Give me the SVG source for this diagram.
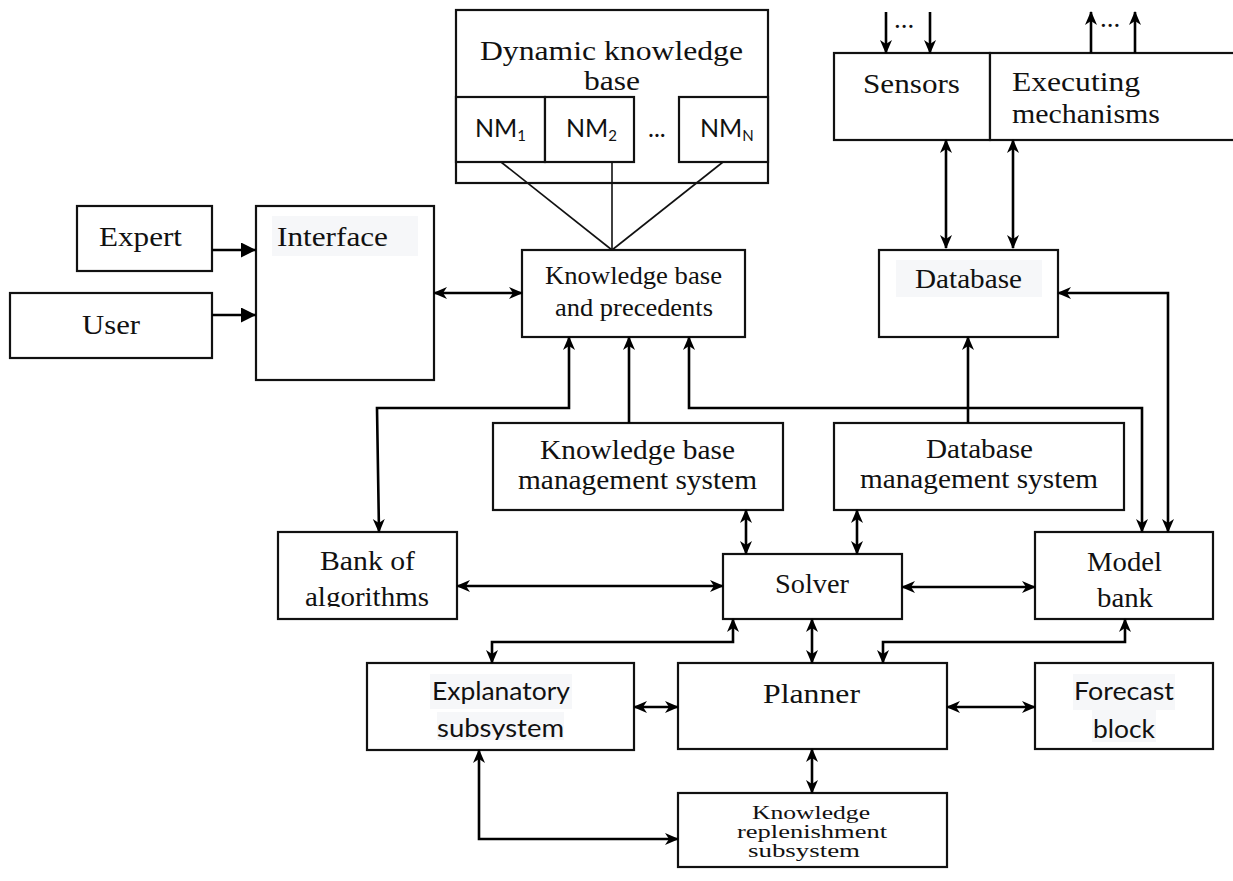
<svg xmlns="http://www.w3.org/2000/svg" width="1233" height="881" viewBox="0 0 1233 881">
<style>
.box{fill:#fff;stroke:#111;stroke-width:2.2}
.thin{fill:none;stroke:#111;stroke-width:1.6}
.c{fill:none;stroke:#000;stroke-width:2.6}
.s{font-family:"Liberation Serif","Times New Roman",serif;font-size:27px;fill:#111}
.sm{font-family:"Liberation Serif","Times New Roman",serif;font-size:25px;fill:#111}
.kr{font-family:"Liberation Serif","Times New Roman",serif;font-size:19px;fill:#111}
.ss{font-family:Lato,"Open Sans",sans-serif;font-size:25px;fill:#111}
.bg{fill:#f6f7f9}
</style>
<defs>
<marker id="a" viewBox="0 0 14 14" refX="13" refY="7" markerWidth="14" markerHeight="14" markerUnits="userSpaceOnUse" orient="auto-start-reverse"><path d="M0,1 L14,7 L0,13 L4,7 z" fill="#000"/></marker>
<marker id="t" viewBox="0 0 14 14" refX="14" refY="7" markerWidth="15" markerHeight="15" markerUnits="userSpaceOnUse" orient="auto"><path d="M0,0 L14,7 L0,14 z" fill="#000"/></marker>
<clipPath id="clipExp"><rect x="360" y="660" width="280" height="80"/></clipPath>
<clipPath id="clipAlg"><rect x="280" y="534" width="175" height="73"/></clipPath>
</defs>

<g id="dynamic-kb">
<rect class="box" x="456" y="10" width="312" height="173"/>
<text class="s" x="480" y="60" textLength="263" lengthAdjust="spacingAndGlyphs">Dynamic knowledge</text>
<text class="s" x="584" y="90" textLength="56" lengthAdjust="spacingAndGlyphs">base</text>
<rect class="box" x="456" y="97" width="89" height="65"/>
<rect class="box" x="545" y="97" width="89" height="65"/>
<rect class="box" x="679" y="97" width="89" height="65"/>
<text class="ss" x="475" y="137" font-size="22">NM<tspan font-size="15" dy="4">1</tspan></text>
<text class="ss" x="566" y="137" font-size="22">NM<tspan font-size="15" dy="4">2</tspan></text>
<text class="ss" x="648" y="137" font-size="22">...</text>
<text class="ss" x="700" y="137" font-size="22">NM<tspan font-size="15" dy="4">N</tspan></text>
</g>

<g id="sensors">
<rect class="box" x="834" y="53" width="156" height="87"/>
<text class="s" x="863" y="93" textLength="97" lengthAdjust="spacingAndGlyphs">Sensors</text>
</g>
<g id="executing">
<rect class="box" x="990" y="53" width="250" height="87"/>
<text class="s" x="1012" y="91" textLength="128" lengthAdjust="spacingAndGlyphs">Executing</text>
<text class="s" x="1012" y="123" textLength="148" lengthAdjust="spacingAndGlyphs">mechanisms</text>
</g>

<g id="expert">
<rect class="box" x="77" y="206" width="135" height="65"/>
<text class="s" x="99" y="246" textLength="83" lengthAdjust="spacingAndGlyphs">Expert</text>
</g>
<g id="user">
<rect class="box" x="10" y="293" width="202" height="65"/>
<text class="s" x="82" y="334" textLength="58" lengthAdjust="spacingAndGlyphs">User</text>
</g>
<g id="interface">
<rect class="box" x="256" y="206" width="178" height="174"/>
<rect class="bg" x="272" y="216" width="146" height="40"/>
<text class="s" x="277" y="246" textLength="111" lengthAdjust="spacingAndGlyphs">Interface</text>
</g>

<g id="kb-precedents">
<rect class="box" x="522" y="250" width="223" height="87"/>
<text class="sm" x="545" y="284" textLength="177" lengthAdjust="spacingAndGlyphs">Knowledge base</text>
<text class="sm" x="555" y="316" textLength="158" lengthAdjust="spacingAndGlyphs">and precedents</text>
</g>

<g id="database">
<rect class="box" x="879" y="250" width="179" height="87"/>
<rect class="bg" x="896" y="260" width="146" height="37"/>
<text class="s" x="915" y="288" textLength="107" lengthAdjust="spacingAndGlyphs">Database</text>
</g>

<g id="kbms">
<rect class="box" x="493" y="423" width="290" height="87"/>
<text class="s" x="540" y="459" textLength="195" lengthAdjust="spacingAndGlyphs">Knowledge base</text>
<text class="s" x="518" y="489" textLength="239" lengthAdjust="spacingAndGlyphs">management system</text>
</g>

<g id="dbms">
<rect class="box" x="834" y="423" width="290" height="87"/>
<text class="s" x="926" y="458" textLength="107" lengthAdjust="spacingAndGlyphs">Database</text>
<text class="s" x="860" y="488" textLength="238" lengthAdjust="spacingAndGlyphs">management system</text>
</g>

<g id="bank-algorithms">
<rect class="box" x="278" y="532" width="179" height="87"/>
<text class="s" x="320" y="570" textLength="95" lengthAdjust="spacingAndGlyphs">Bank of</text>
<text class="s" x="305" y="606" textLength="124" lengthAdjust="spacingAndGlyphs" clip-path="url(#clipAlg)">algorithms</text>
</g>

<g id="solver">
<rect class="box" x="723" y="554" width="179" height="65"/>
<text class="s" x="775" y="593" textLength="74" lengthAdjust="spacingAndGlyphs">Solver</text>
</g>

<g id="model-bank">
<rect class="box" x="1035" y="532" width="178" height="87"/>
<text class="s" x="1087" y="571" textLength="75" lengthAdjust="spacingAndGlyphs">Model</text>
<text class="s" x="1097" y="607" textLength="56" lengthAdjust="spacingAndGlyphs">bank</text>
</g>

<g id="explanatory">
<rect class="box" x="367" y="663" width="267" height="87"/>
<rect class="bg" x="430" y="674" width="142" height="35"/>
<rect class="bg" x="437" y="712" width="127" height="28"/>
<text class="ss" x="432" y="700" textLength="138" lengthAdjust="spacingAndGlyphs">Explanatory</text>
<text class="ss" x="437" y="737" textLength="127" lengthAdjust="spacingAndGlyphs" clip-path="url(#clipExp)">subsystem</text>
</g>

<g id="planner">
<rect class="box" x="678" y="663" width="269" height="86"/>
<text class="s" x="763" y="703" textLength="97" lengthAdjust="spacingAndGlyphs">Planner</text>
</g>

<g id="forecast">
<rect class="box" x="1035" y="663" width="178" height="86"/>
<rect class="bg" x="1073" y="674" width="102" height="36"/>
<rect class="bg" x="1092" y="710" width="64" height="32"/>
<text class="ss" x="1074" y="700" textLength="100" lengthAdjust="spacingAndGlyphs">Forecast</text>
<text class="ss" x="1093" y="738" textLength="62" lengthAdjust="spacingAndGlyphs">block</text>
</g>

<g id="knowledge-replenishment">
<rect class="box" x="678" y="793" width="269" height="74"/>
<text class="kr" x="752" y="819" textLength="118" lengthAdjust="spacingAndGlyphs">Knowledge</text>
<text class="kr" x="737" y="838" textLength="150" lengthAdjust="spacingAndGlyphs">replenishment</text>
<text class="kr" x="748" y="857" textLength="112" lengthAdjust="spacingAndGlyphs">subsystem</text>
</g>

<g id="connectors">
<line class="thin" x1="501" y1="162" x2="612" y2="250"/>
<line class="thin" x1="612" y1="162" x2="612" y2="250"/>
<line class="thin" x1="723" y1="162" x2="612" y2="250"/>

<line class="c" x1="886" y1="12" x2="886" y2="53" marker-end="url(#a)"/>
<line class="c" x1="930" y1="12" x2="930" y2="53" marker-end="url(#a)"/>
<text class="s" x="894" y="28" font-size="16">...</text>
<line class="c" x1="1091" y1="53" x2="1091" y2="12" marker-end="url(#a)"/>
<line class="c" x1="1135" y1="53" x2="1135" y2="12" marker-end="url(#a)"/>
<text class="s" x="1100" y="27" font-size="16">...</text>

<line class="c" x1="946" y1="140" x2="946" y2="248" marker-start="url(#a)" marker-end="url(#a)"/>
<line class="c" x1="1013" y1="140" x2="1013" y2="248" marker-start="url(#a)" marker-end="url(#a)"/>

<line class="c" x1="212" y1="250" x2="256" y2="250" marker-end="url(#t)"/>
<line class="c" x1="212" y1="315" x2="256" y2="315" marker-end="url(#t)"/>
<line class="c" x1="434" y1="293" x2="522" y2="293" marker-start="url(#a)" marker-end="url(#a)"/>

<polyline class="c" points="569,337 569,408 377,408 379,532" marker-start="url(#a)" marker-end="url(#a)"/>
<line class="c" x1="629" y1="423" x2="629" y2="337" marker-end="url(#a)"/>
<polyline class="c" points="689,337 689,408 1142,408 1142,532" marker-start="url(#a)" marker-end="url(#a)"/>
<line class="c" x1="968" y1="423" x2="968" y2="337" marker-end="url(#a)"/>
<polyline class="c" points="1058,293 1168,293 1168,532" marker-start="url(#a)" marker-end="url(#a)"/>

<line class="c" x1="746" y1="510" x2="746" y2="554" marker-start="url(#a)" marker-end="url(#a)"/>
<line class="c" x1="857" y1="510" x2="857" y2="554" marker-start="url(#a)" marker-end="url(#a)"/>
<line class="c" x1="457" y1="586" x2="723" y2="586" marker-start="url(#a)" marker-end="url(#a)"/>
<line class="c" x1="902" y1="587" x2="1035" y2="587" marker-start="url(#a)" marker-end="url(#a)"/>

<polyline class="c" points="733,619 733,642 492,642 492,663" marker-start="url(#a)" marker-end="url(#a)"/>
<polyline class="c" points="1125,619 1125,642 883,642 883,663" marker-start="url(#a)" marker-end="url(#a)"/>
<line class="c" x1="812" y1="619" x2="812" y2="663" marker-start="url(#a)" marker-end="url(#a)"/>
<line class="c" x1="634" y1="707" x2="678" y2="707" marker-start="url(#a)" marker-end="url(#a)"/>
<line class="c" x1="947" y1="707" x2="1035" y2="707" marker-start="url(#a)" marker-end="url(#a)"/>
<line class="c" x1="812" y1="749" x2="812" y2="793" marker-start="url(#a)" marker-end="url(#a)"/>
<polyline class="c" points="479,750 479,839 678,839" marker-start="url(#a)" marker-end="url(#a)"/>
</g>
</svg>
